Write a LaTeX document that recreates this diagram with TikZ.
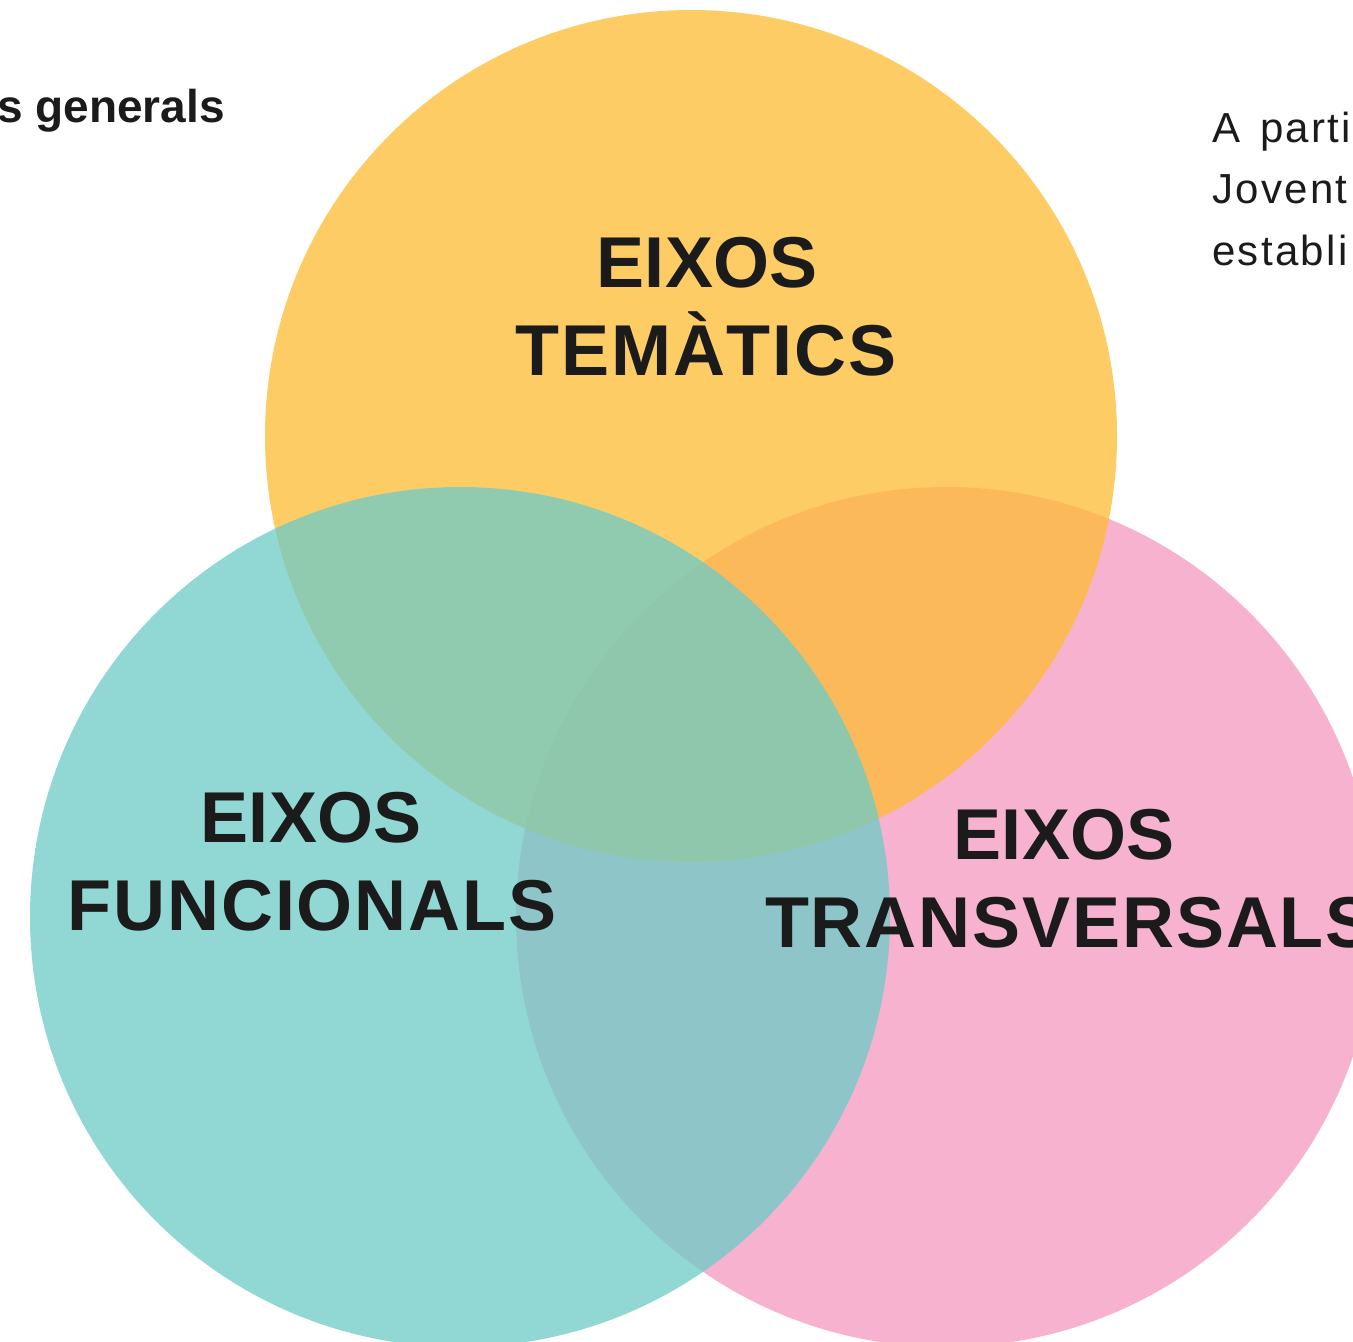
\documentclass[tikz,border=0pt]{standalone}
\usepackage{fontspec}
\setmainfont{Liberation Sans}
\newfontfamily\amplafont[LetterSpace=2.6]{Liberation Sans}
\newfontfamily\paraulafont[LetterSpace=5.5]{Liberation Sans}
\definecolor{groc}{HTML}{FEBC34}
\definecolor{turquesa}{HTML}{6ECCC8}
\definecolor{rosa}{HTML}{F7B2CF}
\definecolor{tinta}{HTML}{1B1B1B}
\tikzset{
  cercle/.style={fill opacity=0.76},
  eix/.style={font=\bfseries\fontsize{72}{88}\selectfont, text=tinta, inner sep=0pt, anchor=base},
  eixample/.style={eix, font=\amplafont\bfseries\fontsize{72}{88}\selectfont},
  lletra/.style={text=tinta, inner sep=0pt, anchor=base west, font=\paraulafont\fontsize{42}{62}\selectfont},
}

\begin{document}
\begin{tikzpicture}[x=1pt,y=-1pt]
    \useasboundingbox(0,0)rectangle(1353,1342);
    \clip(0,0)rectangle(1353,1342);
    \fill[rosa](946,917)circle(430pt);
    \fill[groc,cercle](691,436)circle(426pt);
    \fill[turquesa,cercle](460,917)circle(430pt);
    \node[eix](tem1)at(707,287){EIXOS};
    \node[eixample](tem2)at(706,375){TEMÀTICS};
    \node[eix](fun1)at(311,842){EIXOS};
    \node[eixample](fun2)at(312,930){FUNCIONALS};
    \node[eix](tra1)at(1064,859){EIXOS};
    \node[eixample,anchor=base west](tra2)at(765,947){TRANSVERSALS};
    \node[text=tinta,inner sep=0pt,anchor=base east,font=\bfseries\fontsize{46}{54}\selectfont](gen)at(225,122){s generals};
    \node[lletra](par1)at(1212,142){A\hspace{20pt}parti};
    \node[lletra](par2)at(1212,203){Jovent};
    \node[lletra](par3)at(1212,265){establi};
\end{tikzpicture}
\end{document}
